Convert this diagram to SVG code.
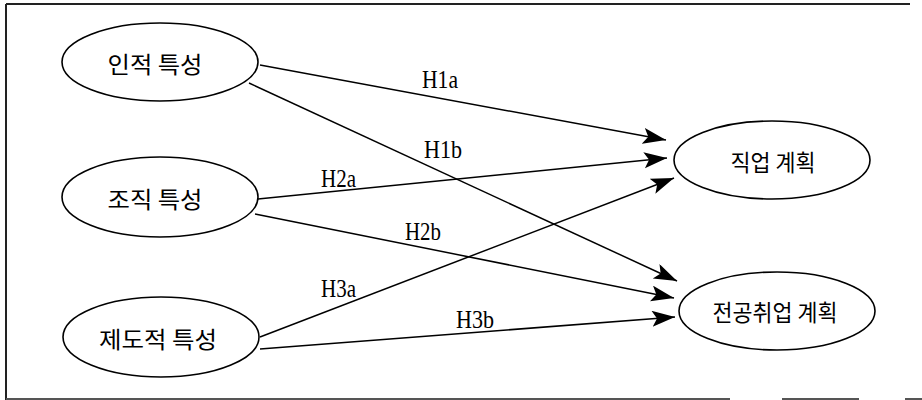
<svg xmlns="http://www.w3.org/2000/svg" width="922" height="400" viewBox="0 0 922 400">
<style>
.node ellipse{fill:#fff;stroke:#000;stroke-width:1.6}
.node text{font-family:"Noto Sans CJK KR","Noto Sans",sans-serif;font-size:23px;fill:#000;text-anchor:middle}
.edge{fill:none;stroke:#000;stroke-width:1.5;marker-end:url(#ah)}
.lbl{font-family:"Liberation Serif","DejaVu Serif",serif;font-size:26px;fill:#000}
.frame{stroke:#222;stroke-width:2;fill:none}
</style>
<defs>
<marker id="ah" markerUnits="userSpaceOnUse" markerWidth="26" markerHeight="18" refX="23" refY="8" orient="auto">
<path d="M0,0 L23,8 L0,16 L5,8 Z" fill="#000"/>
</marker>
</defs>
<rect width="922" height="400" fill="#fff"/>
<g id="frame">
<line class="frame" x1="6" y1="4" x2="910" y2="4"/>
<line class="frame" x1="6" y1="4" x2="6" y2="400"/>
<line x1="6" y1="399" x2="730" y2="399" stroke="#555" stroke-width="2"/>
<line x1="782" y1="399" x2="859" y2="399" stroke="#555" stroke-width="2"/>
<line x1="905" y1="399" x2="922" y2="399" stroke="#555" stroke-width="2"/>
</g>
<g id="connectors">
<path class="edge" d="M260,65 L666,140"/>
<path class="edge" d="M249,83 L677,281"/>
<path class="edge" d="M258,199 L667,158"/>
<path class="edge" d="M255,214 L674,298"/>
<path class="edge" d="M260,337 L674,178"/>
<path class="edge" d="M260,349 L675,317"/>
<text class="lbl" x="422" y="88" textLength="36" lengthAdjust="spacingAndGlyphs">H1a</text>
<text class="lbl" x="424" y="158" textLength="38" lengthAdjust="spacingAndGlyphs">H1b</text>
<text class="lbl" x="321" y="187" textLength="35" lengthAdjust="spacingAndGlyphs">H2a</text>
<text class="lbl" x="405" y="240" textLength="36" lengthAdjust="spacingAndGlyphs">H2b</text>
<text class="lbl" x="321" y="297" textLength="35" lengthAdjust="spacingAndGlyphs">H3a</text>
<text class="lbl" x="456" y="328" textLength="38" lengthAdjust="spacingAndGlyphs">H3b</text>
</g>
<g id="n1" class="node">
<ellipse cx="160" cy="62" rx="98" ry="39"/>
<text x="155" y="73" textLength="95" lengthAdjust="spacingAndGlyphs">인적 특성</text>
</g>
<g id="n2" class="node">
<ellipse cx="160" cy="197" rx="98" ry="40"/>
<text x="155" y="208" textLength="95" lengthAdjust="spacingAndGlyphs">조직 특성</text>
</g>
<g id="n3" class="node">
<ellipse cx="161" cy="337" rx="98" ry="40"/>
<text x="158" y="348" textLength="118" lengthAdjust="spacingAndGlyphs">제도적 특성</text>
</g>
<g id="n4" class="node">
<ellipse cx="772" cy="160" rx="98" ry="39"/>
<text x="773" y="171" textLength="85" lengthAdjust="spacingAndGlyphs">직업 계획</text>
</g>
<g id="n5" class="node">
<ellipse cx="777" cy="311" rx="98" ry="39"/>
<text x="775" y="321" textLength="125" lengthAdjust="spacingAndGlyphs">전공취업 계획</text>
</g>
</svg>
